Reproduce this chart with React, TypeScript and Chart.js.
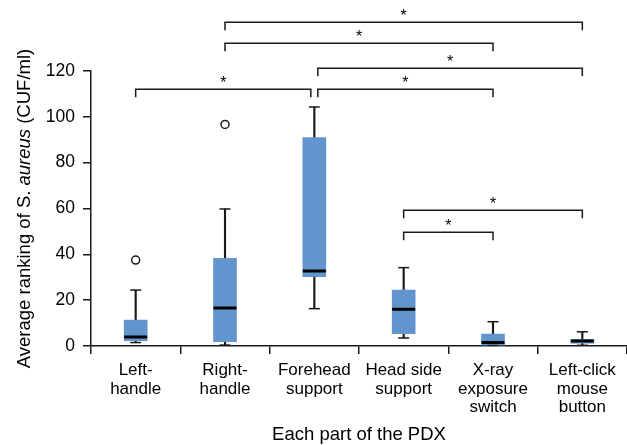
import React, { useEffect, useRef } from "react";
import { Chart, registerables } from "chart.js";

Chart.register(...registerables);

// ---- data ----
const categories: string[][] = [
  ["Left-", "handle"],
  ["Right-", "handle"],
  ["Forehead", "support"],
  ["Head side", "support"],
  ["X-ray", "exposure", "switch"],
  ["Left-click", "mouse", "button"],
];
const whiskerLow = [1.5, 0.4, 16.3, 3.5, 0.2, 0.3];
const q1 = [2.3, 1.9, 30.2, 5.4, 0.4, 1.2];
const median = [3.9, 16.6, 32.7, 16.0, 1.5, 2.2];
const q3 = [11.3, 38.3, 91.0, 24.4, 5.2, 2.9];
const whiskerHigh = [24.4, 59.8, 104.3, 34.2, 10.6, 6.2];
const outliers = [37.5, 96.7, null, null, null, null];

const yMin = 0;
const yMax = 120;
const yStep = 20;

// significance comparisons: [from category, to category]
const comparisons: [number, number][] = [
  [0, 2],
  [2, 4],
  [2, 5],
  [1, 4],
  [1, 5],
  [3, 4],
  [3, 5],
];
const bracketLevels = [112.0, 112.0, 121.2, 132.3, 141.5, 49.7, 59.3];
const bracketLabels = ["*", "*", "*", "*", "*", "*", "*"];

const xTitle = "Each part of the PDX";
const yTitleParts: [string, boolean][] = [
  ["Average ranking of S. ", false],
  ["aureus", true],
  [" (CUF/ml)", false],
];

// ---- styles ----
const FONT = "'Liberation Sans', Arial, sans-serif";
const BLUE = "#6295CE";
const INK = "#1a1a1a";

const annotPlugin = {
  id: "annot",
  afterDatasetsDraw(chart: any) {
    const { ctx, chartArea } = chart;
    const x = chart.scales.x;
    const y = chart.scales.y;
    ctx.save();
    ctx.strokeStyle = INK;
    ctx.fillStyle = "#000";
    ctx.lineWidth = 1.5;
    ctx.lineJoin = "miter";
    const starts = new Set(comparisons.map((c) => c[0]));
    const ends = new Set(comparisons.map((c) => c[1]));
    ctx.font = `16px ${FONT}`;
    ctx.textAlign = "center";
    ctx.textBaseline = "alphabetic";
    comparisons.forEach(([a, b], i) => {
      let xa = x.getPixelForValue(a);
      let xb = x.getPixelForValue(b);
      if (ends.has(a)) xa += 3.5;
      if (starts.has(b)) xb -= 3.5;
      const yy = Math.round(y.getPixelForValue(bracketLevels[i])) + 0.25;
      ctx.beginPath();
      ctx.moveTo(xa, yy + 8);
      ctx.lineTo(xa, yy);
      ctx.lineTo(xb, yy);
      ctx.lineTo(xb, yy + 8);
      ctx.stroke();
      ctx.fillText(bracketLabels[i], (xa + xb) / 2, yy - 1.5);
    });

    // x axis title
    ctx.font = `18.5px ${FONT}`;
    ctx.textAlign = "center";
    ctx.textBaseline = "alphabetic";
    ctx.fillText(xTitle, (chartArea.left + chartArea.right) / 2, 440);

    // y axis title with italic part
    const fonts = yTitleParts.map(([, it]) => `${it ? "italic " : ""}18.5px ${FONT}`);
    let total = 0;
    const widths = yTitleParts.map(([t], i) => {
      ctx.font = fonts[i];
      const w = ctx.measureText(t).width;
      total += w;
      return w;
    });
    ctx.translate(30, (chartArea.top + chartArea.bottom) / 2);
    ctx.rotate(-Math.PI / 2);
    ctx.textAlign = "left";
    let cx = -total / 2;
    yTitleParts.forEach(([t], i) => {
      ctx.font = fonts[i];
      ctx.fillText(t, cx, 0);
      cx += widths[i];
    });
    ctx.restore();
  },
};

export default function App() {
  const ref = useRef<HTMLCanvasElement | null>(null);
  useEffect(() => {
    if (!ref.current) return;
    const chart = new Chart(ref.current, {
      type: "bar",
      data: {
        labels: categories as any,
        datasets: [
          {
            type: "bar",
            label: "whisker",
            data: categories.map((_, i) => [whiskerLow[i], whiskerHigh[i]]) as any,
            backgroundColor: INK,
            barThickness: 1.5,
            grouped: false,
            order: 5,
          } as any,
          {
            type: "bar",
            label: "box",
            data: q1.map((v, i) => [v, q3[i]]) as any,
            backgroundColor: BLUE,
            barThickness: 23,
            grouped: false,
            order: 4,
          } as any,
          {
            type: "line",
            label: "capHigh",
            data: whiskerHigh,
            showLine: false,
            pointStyle: "line",
            pointRadius: 5.5,
            pointBorderWidth: 1.5,
            pointBorderColor: INK,
            borderColor: INK,
            order: 2,
          } as any,
          {
            type: "line",
            label: "capLow",
            data: whiskerLow,
            showLine: false,
            pointStyle: "line",
            pointRadius: 5.5,
            pointBorderWidth: 1.5,
            pointBorderColor: INK,
            borderColor: INK,
            order: 3,
          } as any,
          {
            type: "line",
            label: "median",
            data: median,
            showLine: false,
            pointStyle: "line",
            pointRadius: 11.5,
            pointBorderWidth: 3,
            pointBorderColor: "#000",
            borderColor: "#000",
            order: 1,
          } as any,
          {
            type: "line",
            label: "outlier",
            data: outliers,
            showLine: false,
            pointStyle: "circle",
            pointRadius: 4,
            pointBorderWidth: 1.5,
            pointBorderColor: INK,
            pointBackgroundColor: "#fff",
            order: 1,
          } as any,
        ],
      },
      options: {
        responsive: false,
        animation: false,
        events: [],
        layout: { autoPadding: false, padding: { top: 71, left: 0, right: 0, bottom: 0 } },
        plugins: {
          legend: { display: false },
          tooltip: { enabled: false },
          title: { display: false },
        },
        scales: {
          x: {
            type: "category",
            offset: true,
            grid: {
              offset: true,
              drawOnChartArea: false,
              drawTicks: true,
              tickLength: 8,
              color: INK,
              lineWidth: 1.5,
            },
            border: { display: true, color: INK, width: 1.5 },
            ticks: {
              color: "#000",
              font: { family: FONT, size: 17, lineHeight: 1.1 },
              padding: 7,
              maxRotation: 0,
              minRotation: 0,
              autoSkip: false,
            },
            afterFit: (s: any) => {
              s.height = 99;
              s.paddingLeft = 0;
              s.paddingRight = 0;
            },
          },
          y: {
            min: yMin,
            max: yMax,
            grid: {
              drawOnChartArea: false,
              drawTicks: true,
              tickLength: 8,
              color: INK,
              lineWidth: 1.5,
            },
            border: { display: true, color: INK, width: 1.5 },
            ticks: {
              stepSize: yStep,
              color: "#000",
              font: { family: FONT, size: 17.5 },
              padding: 8,
            },
            afterFit: (s: any) => {
              s.width = 91;
              s.paddingTop = 0;
              s.paddingBottom = 0;
            },
          },
        },
      },
      plugins: [annotPlugin],
    });
    return () => chart.destroy();
  }, []);
  return (
    <div style={{ position: "fixed", left: 0, top: 0, width: 627, height: 445, background: "#fff" }}>
      <canvas ref={ref} width={627} height={445} style={{ display: "block" }} />
    </div>
  );
}
